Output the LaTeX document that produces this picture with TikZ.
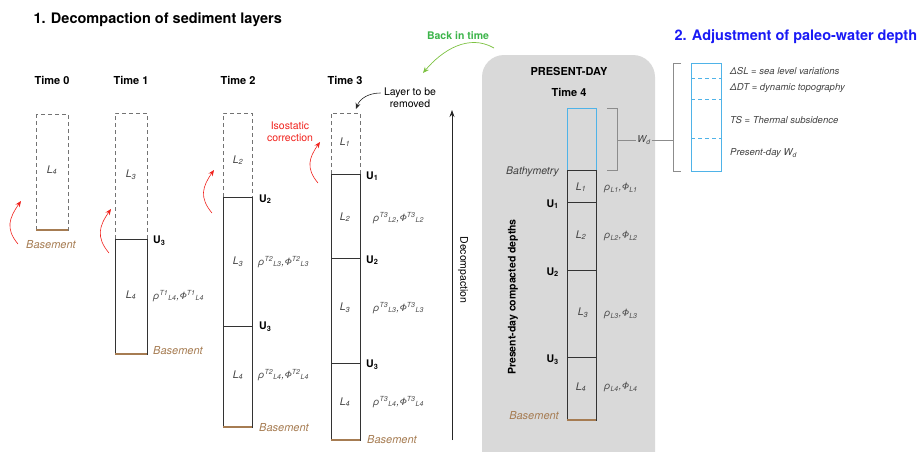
\documentclass[tikz,border=0pt]{standalone}
\usepackage{fontspec}
\setmainfont{TeX Gyre Heros}
\usetikzlibrary{positioning,arrows.meta}
\definecolor{isored}{HTML}{F0231E}
\definecolor{basebrown}{HTML}{A67C52}
\definecolor{backgreen}{HTML}{7DC242}
\definecolor{greentext}{HTML}{3CB44A}
\definecolor{waterblue}{HTML}{4FB3E8}
\definecolor{titleblue}{HTML}{1A1AF5}
\definecolor{panelgrey}{HTML}{D9D9D9}

\tikzset{
  heading/.style={font=\bfseries\fontsize{14.5}{17}\selectfont, anchor=west},
  timelbl/.style={font=\bfseries\fontsize{11}{13}\selectfont},
  layer/.style={font=\itshape\fontsize{10.5}{12}\selectfont, text=black!75},
  unconf/.style={font=\bfseries\fontsize{10.5}{12}\selectfont, anchor=west, inner sep=1pt},
  prop/.style={font=\itshape\fontsize{10}{11}\selectfont, text=black!70, anchor=west, inner sep=1pt},
  basement/.style={font=\itshape\fontsize{11}{12}\selectfont, text=basebrown},
  legend/.style={font=\itshape\fontsize{9.5}{11}\selectfont, text=black!75, anchor=west, inner sep=1pt},
  bed/.style={draw=black!80, line width=0.8pt},
  eroded/.style={draw=black!55, dash pattern=on 4pt off 3pt, line width=0.7pt},
  floor/.style={draw=basebrown, line width=2.2pt},
  isoarrow/.style={draw=isored, line width=0.6pt, -{Stealth[length=6pt,width=5pt]}},
  brace/.style={draw=black!45, line width=0.6pt},
  level/.style={draw=waterblue, dash pattern=on 4pt off 3pt, line width=0.8pt},
}

\begin{document}
\begin{tikzpicture}[x=1pt, y=-1pt]
  \useasboundingbox (0,0) rectangle (919,451);
  % Present-day panel
  \fill[panelgrey, rounded corners=22pt] (482,55) rectangle (655,490);
  % Headings
  \node[heading] (head1) at (30,20) {1. Decompaction of sediment layers};
  \node[heading, text=titleblue] (head2) at (671,37) {2. Adjustment of paleo-water depth};
  % Define time labels
  \node[timelbl] (t0) at (52,80) {Time 0};
  \node[timelbl] (t1) at (131,80) {Time 1};
  \node[timelbl] (t2) at (238,80) {Time 2};
  \node[timelbl] (t3) at (345,80) {Time 3};
  \node[timelbl] (pd) at (569,71) {PRESENT-DAY};
  \node[timelbl] (t4) at (569,92) {Time 4};

  % Time 0 column
  \draw[eroded] (36,114) rectangle (68,230);
  \draw[floor] (36,230) -- (68,230);
  \node[layer] (t0l4) at (52,170) {L\textsubscript{4}};
  \node[basement] (t0b) at (51,245) {Basement};

  % Time 1 column
  \draw[eroded] (115,239) -- (115,113) -- (147,113) -- (147,239);
  \draw[bed] (115,239) rectangle (147,354);
  \draw[floor] (115,354) -- (147,354);
  \node[layer] (t1l3) at (131,175) {L\textsubscript{3}};
  \node[layer] (t1l4) at (131,295) {L\textsubscript{4}};
  \node[unconf] (t1u3) at (152,241) {U\textsubscript{3}};
  \node[prop] (t1p4) at (152,296) {ρ\textsuperscript{T1}\textsubscript{L4},Φ\textsuperscript{T1}\textsubscript{L4}};
  \node[basement, anchor=west, inner sep=1pt] (t1b) at (152,351) {Basement};

  % Time 2 column
  \draw[eroded] (223,197) -- (223,113) -- (252,113) -- (252,197);
  \draw[bed] (223,197) rectangle (252,427);
  \draw[bed] (223,326) -- (252,326);
  \draw[floor] (223,427) -- (252,427);
  \node[layer] (t2l2) at (238,160) {L\textsubscript{2}};
  \node[layer] (t2l3) at (238,262) {L\textsubscript{3}};
  \node[layer] (t2l4) at (238,375) {L\textsubscript{4}};
  \node[unconf] (t2u2) at (258,199) {U\textsubscript{2}};
  \node[unconf] (t2u3) at (258,327) {U\textsubscript{3}};
  \node[prop] (t2p3) at (257,262) {ρ\textsuperscript{T2}\textsubscript{L3},Φ\textsuperscript{T2}\textsubscript{L3}};
  \node[prop] (t2p4) at (257,375) {ρ\textsuperscript{T2}\textsubscript{L4},Φ\textsuperscript{T2}\textsubscript{L4}};
  \node[basement, anchor=west, inner sep=1pt] (t2b) at (258,428) {Basement};

  % Time 3 column
  \draw[eroded] (331,174) -- (331,113) -- (360,113) -- (360,174);
  \draw[bed] (331,174) rectangle (360,440);
  \draw[bed] (331,258) -- (360,258);
  \draw[bed] (331,363) -- (360,363);
  \draw[floor] (331,440) -- (360,440);
  \node[layer] (t3l1) at (345,142) {L\textsubscript{1}};
  \node[layer] (t3l2) at (345,217) {L\textsubscript{2}};
  \node[layer] (t3l3) at (345,308) {L\textsubscript{3}};
  \node[layer] (t3l4) at (345,402) {L\textsubscript{4}};
  \node[unconf] (t3u1) at (365,176) {U\textsubscript{1}};
  \node[unconf] (t3u2) at (365,260) {U\textsubscript{2}};
  \node[unconf] (t3u3) at (365,365) {U\textsubscript{3}};
  \node[prop] (t3p2) at (372,218) {ρ\textsuperscript{T3}\textsubscript{L2},Φ\textsuperscript{T3}\textsubscript{L2}};
  \node[prop] (t3p3) at (372,308) {ρ\textsuperscript{T3}\textsubscript{L3},Φ\textsuperscript{T3}\textsubscript{L3}};
  \node[prop] (t3p4) at (372,402) {ρ\textsuperscript{T3}\textsubscript{L4},Φ\textsuperscript{T3}\textsubscript{L4}};
  \node[basement, anchor=west, inner sep=1pt] (t3b) at (366,440) {Basement};

  % Time 4 column
  \draw[waterblue, line width=0.8pt] (567,108) rectangle (596,170);
  \draw[bed] (567,170) rectangle (596,420);
  \draw[bed] (567,202) -- (596,202);
  \draw[bed] (567,270) -- (596,270);
  \draw[bed] (567,357) -- (596,357);
  \draw[floor] (567,420) -- (596,420);
  \node[layer] (t4l1) at (581,187) {L\textsubscript{1}};
  \node[layer] (t4l2) at (581,235) {L\textsubscript{2}};
  \node[layer] (t4l3) at (583,313) {L\textsubscript{3}};
  \node[layer] (t4l4) at (581,387) {L\textsubscript{4}};
  \node[unconf, anchor=east] (t4u1) at (560,204) {U\textsubscript{1}};
  \node[unconf, anchor=east] (t4u2) at (560,272) {U\textsubscript{2}};
  \node[unconf, anchor=east] (t4u3) at (560,360) {U\textsubscript{3}};
  \node[prop] (t4p1) at (603,188) {ρ\textsubscript{L1},Φ\textsubscript{L1}};
  \node[prop] (t4p2) at (603,236) {ρ\textsubscript{L2},Φ\textsubscript{L2}};
  \node[prop] (t4p3) at (603,314) {ρ\textsubscript{L3},Φ\textsubscript{L3}};
  \node[prop] (t4p4) at (603,387) {ρ\textsubscript{L4},Φ\textsubscript{L4}};
  \node[layer, anchor=east, inner sep=1pt] (bathy) at (560,172) {Bathymetry};
  \node[basement, anchor=east, inner sep=1pt] (t4b) at (560,416) {Basement};
  \node[font=\bfseries\fontsize{10.5}{12}\selectfont, rotate=90] (pdc) at (513,297) {Present-day compacted depths};

  % Water depth brackets
  \coordinate (wa) at (617,140);
  \coordinate (wb) at (673,140);
  \node[legend, anchor=center] (wd) at (644,140) {W\textsubscript{d}};
  \draw[brace] (607,108) -- (617,108) -- (617,170) -- (607,170);
  \draw[brace] (681,63) -- (673,63) -- (673,171) -- (681,171);
  \draw[brace] (wa) -- (wd.west);
  \draw[brace] (wd.east) -- (wb);
  \draw[waterblue, line width=0.8pt] (691,63) rectangle (721,171);
  \draw[level] (691,78) -- (721,78);
  \draw[level] (691,99) -- (721,99);
  \draw[level] (691,138) -- (721,138);
  \node[legend] (sl) at (729,71) {ΔSL = sea level variations};
  \node[legend] (dt) at (729,88) {ΔDT = dynamic topography};
  \node[legend] (ts) at (729,120) {TS = Thermal subsidence};
  \node[legend] (pw) at (729,153) {Present-day W\textsubscript{d}};

  % Isostatic correction arrows
  \node[text=isored, font=\fontsize{10.5}{12}\selectfont, align=center] (iso) at (290,132) {Isostatic\\correction};
  \coordinate (a0s) at (18,244); \coordinate (a0e) at (21,201);
  \coordinate (a1s) at (109,253); \coordinate (a1e) at (111,209);
  \coordinate (a2s) at (212,213); \coordinate (a2e) at (214,170);
  \coordinate (a3s) at (318,183); \coordinate (a3e) at (320,142);
  \draw[isoarrow] (a0s) to[out=130, in=235, looseness=1.2] (a0e);
  \draw[isoarrow] (a1s) to[out=130, in=235, looseness=1.2] (a1e);
  \draw[isoarrow] (a2s) to[out=130, in=235, looseness=1.2] (a2e);
  \draw[isoarrow] (a3s) to[out=130, in=235, looseness=1.2] (a3e);

  % Removal and time arrows
  \node[font=\fontsize{10.5}{12}\selectfont, align=center] (rm) at (410,98) {Layer to be\\removed};
  \coordinate (rmend) at (356,109);
  \draw[black!85, line width=0.6pt, -{Stealth[length=6pt,width=5pt]}] (rm.west |- 0,93) to[out=180, in=70] (rmend);
  \node[text=greentext, font=\bfseries\fontsize{10.5}{12}\selectfont] (back) at (458,36) {Back in time};
  \coordinate (gs) at (494,48); \coordinate (ge) at (423,73);
  \draw[backgreen, line width=0.7pt, -{Stealth[length=6pt,width=5pt]}] (gs) to[out=150, in=50] (ge);
  \coordinate (dcs) at (452,440); \coordinate (dce) at (452,110);
  \draw[black!85, line width=0.7pt, -{Stealth[length=7pt,width=5pt]}] (dcs) -- (dce);
  \node[font=\fontsize{10.5}{12}\selectfont, rotate=-90] (decomp) at (463,270) {Decompaction};
\end{tikzpicture}
\end{document}
